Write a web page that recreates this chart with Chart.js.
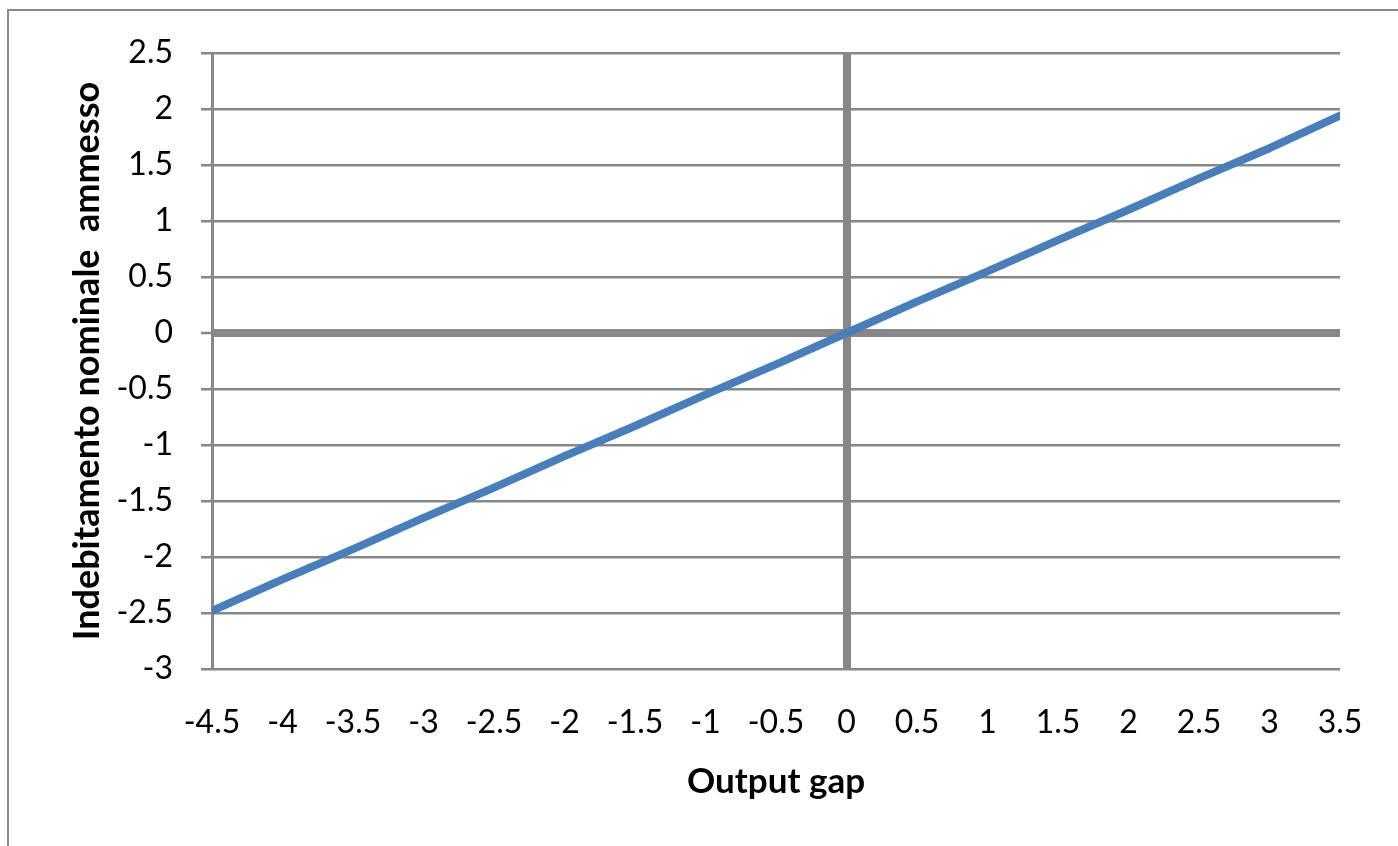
<!DOCTYPE html>
<html>
<head>
<meta charset="utf-8">
<script src="https://cdn.jsdelivr.net/npm/chart.js@4/dist/chart.umd.min.js"></script>
<style>
  html, body { margin: 0; padding: 0; background: #fff; overflow: hidden; }
  #wrap { position: relative; width: 1398px; height: 846px; }
  #frame { position: absolute; left: 7px; top: 9px; width: 2000px; height: 2000px; border: 2px solid #8a8a8a; box-sizing: border-box; pointer-events: none; }
  canvas { position: absolute; left: 0; top: 0; }
</style>
</head>
<body>
<div id="wrap">
  <div id="frame"></div>
  <canvas id="chart" width="1398" height="846"></canvas>
</div>
<script>
// Output gap (x) and allowed nominal deficit (y)
const outputGap = [-4.5, -4, -3.5, -3, -2.5, -2, -1.5, -1, -0.5, 0, 0.5, 1, 1.5, 2, 2.5, 3, 3.5];
const indebitamento = [-2.48, -2.2, -1.93, -1.65, -1.38, -1.1, -0.83, -0.55, -0.28, 0, 0.28, 0.55, 0.83, 1.1, 1.38, 1.65, 1.94];

const xTickLabels = ['-4.5', '-4', '-3.5', '-3', '-2.5', '-2', '-1.5', '-1', '-0.5', '0', '0.5', '1', '1.5', '2', '2.5', '3', '3.5'];
const yTickLabels = ['-3', '-2.5', '-2', '-1.5', '-1', '-0.5', '0', '0.5', '1', '1.5', '2', '2.5'];

const xTitle = 'Output gap';
const yTitle = 'Indebitamento nominale  ammesso';

const points = outputGap.map((x, i) => ({ x: x, y: indebitamento[i] }));
const GRID = '#878787';
const FONT = 'Lato, "Open Sans", sans-serif';

new Chart(document.getElementById('chart'), {
  type: 'scatter',
  data: {
    datasets: [{
      data: points,
      showLine: true,
      borderColor: '#4A7EBB',
      borderWidth: 8,
      borderCapStyle: 'round',
      borderJoinStyle: 'round',
      pointRadius: 0,
      pointHoverRadius: 0,
      tension: 0,
      fill: false
    }]
  },
  options: {
    responsive: false,
    animation: false,
    events: [],
    layout: { padding: { top: 53, right: 58, bottom: 0, left: 0 } },
    plugins: { legend: { display: false }, tooltip: { enabled: false } },
    scales: {
      x: {
        type: 'linear',
        position: 'bottom',
        min: -4.5,
        max: 3.5,
        afterFit: (s) => { s.height = 177; },
        ticks: {
          stepSize: 0.5,
          color: '#000',
          font: { family: FONT, size: 32 },
          padding: 34,
          maxRotation: 0,
          autoSkip: false,
          callback: (v) => {
            const i = outputGap.findIndex(g => Math.abs(g - v) < 1e-9);
            return i >= 0 ? xTickLabels[i] : '';
          }
        },
        grid: {
          drawTicks: false,
          color: (c) => (c.tick && Math.abs(c.tick.value) < 1e-9) ? GRID : 'rgba(0,0,0,0)',
          lineWidth: (c) => (c.tick && Math.abs(c.tick.value) < 1e-9) ? 8 : 0
        },
        border: { display: false },
        title: {
          display: true,
          text: xTitle,
          color: '#000',
          font: { family: FONT, size: 35, weight: 'bold' },
          padding: { top: 0, bottom: 43 }
        }
      },
      y: {
        type: 'linear',
        position: 'left',
        min: -3,
        max: 2.5,
        afterFit: (s) => { s.width = 212; },
        ticks: {
          stepSize: 0.5,
          color: '#000',
          font: { family: FONT, size: 32 },
          padding: 28,
          autoSkip: false,
          callback: (v) => {
            const i = Math.round((v + 3) / 0.5);
            return yTickLabels[i] !== undefined ? yTickLabels[i] : '';
          }
        },
        grid: {
          color: GRID,
          lineWidth: (c) => (c.tick && Math.abs(c.tick.value) < 1e-9) ? 8 : 2.5,
          drawTicks: true,
          tickLength: 11,
          tickWidth: 2.5,
          tickColor: GRID
        },
        border: { display: true, color: GRID, width: 3 },
        title: {
          display: true,
          text: yTitle,
          color: '#000',
          font: { family: FONT, size: 36, weight: 'bold' },
          padding: { top: 66, bottom: 0 }
        }
      }
    }
  }
});
</script>
</body>
</html>
